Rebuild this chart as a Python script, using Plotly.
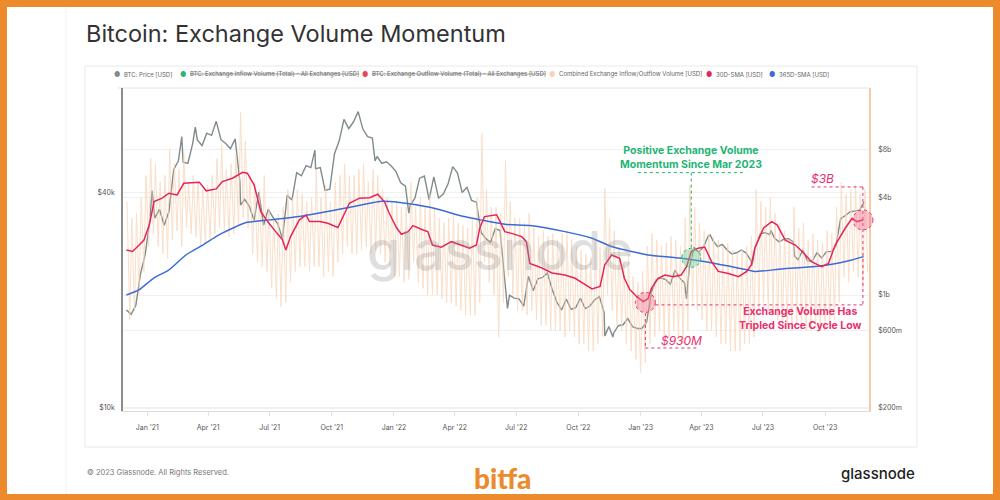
import numpy as np
import pandas as pd
import plotly.graph_objects as go

# ---------------- DATA ----------------
week_start = "2020-12-01"

# BTC price (USD), weekly samples starting 2020-12-01
price_weekly = [
    18800, 18300, 19400, 23800, 27000,
    33900, 34000, 36000, 32500,
    35500, 46500, 49200, 48800,
    48400, 54900, 56300, 54300, 58800,
    58000, 63500, 56400, 55000,
    53200, 56700, 43000, 38400,
    36700, 33500, 40200, 32500, 36000,
    34200, 32800, 29800, 39400,
    38200, 45600, 44700, 47700, 47100,
    46800, 47100, 40700, 41000,
    51500, 56000, 64300, 60600,
    63200, 67600, 60400, 57500, 57000,
    50600, 48400, 48900, 47600,
    45900, 42700, 41800, 36900,
    38700, 44000, 44600, 38300,
    44400, 38700, 39700, 42400, 47400,
    45500, 40100, 41500, 38100,
    37700, 31000, 29800, 29100, 31800,
    31400, 22500, 20700, 20300,
    20200, 19300, 23400, 21300,
    23000, 23200, 23900, 21500, 19800,
    18800, 20200, 18900, 19100,
    20300, 19000, 19300, 20100,
    20500, 18500, 16900, 16200, 17000,
    17100, 17800, 16900, 16700,
    16700, 17400, 21100, 22900, 23100,
    22900, 22200, 24300, 23100,
    22400, 24700, 28200, 27300,
    28200, 30300, 29400, 28300,
    28700, 27700, 27000, 27200, 27700,
    27200, 25900, 28300, 30700,
    31000, 30600, 29900, 29200,
    29700, 29800, 29200, 26000, 27700,
    25800, 25800, 27200, 26300,
    27400, 27400, 28400, 33900, 34600,
    35400, 35600, 35800, 37800,
]
price_extra_dates = ["2021-01-08", "2021-02-21", "2021-03-13", "2021-05-19", "2021-09-06",
                     "2021-12-04", "2022-01-23", "2022-06-18", "2022-11-09", "2022-11-21",
                     "2023-03-10", "2023-04-14", "2023-06-15", "2023-07-13", "2023-08-17",
                     "2023-10-23"]
price_extra_values = [40600, 57500, 61200, 37000, 52700,
                      49200, 35100, 19000, 15900, 15800,
                      20200, 30500, 25100, 31400, 26600,
                      33000]

# Combined exchange in/outflow volume (USD bn): weekly weekday peak and weekend trough
vol_week_high_b = [
    3.8, 3.0, 3.2, 4.0, 5.5,
    7.0, 6.5, 5.0, 5.5,
    8.0, 6.5, 6.0, 7.5,
    5.0, 5.5, 5.0, 4.5, 4.8,
    5.5, 7.0, 8.5, 6.0,
    6.5, 7.5, 13.5, 9.0,
    5.5, 5.0, 4.5, 5.5,
    3.5, 3.0, 3.2, 3.5, 4.5,
    4.0, 4.5, 4.2, 3.8, 4.0,
    6.0, 4.0, 4.8, 3.8,
    5.0, 5.5, 6.5, 5.5,
    5.5, 6.0, 6.5, 5.0,
    6.0, 5.5, 4.5, 4.0, 3.8,
    3.8, 3.5, 3.5, 5.0,
    3.5, 4.0, 3.5, 4.2, 3.5, 3.0,
    2.8, 3.0, 3.2, 2.8, 2.7, 2.6, 3.0,
    4.0, 10.0, 4.5, 3.5, 3.5,
    3.2, 6.8, 3.8, 3.0,
    3.0, 2.8, 3.2, 2.6, 2.3, 2.5, 2.3, 2.4,
    2.2, 2.4, 2.5, 2.2, 2.0, 1.9, 1.8, 1.7, 2.2,
    2.0, 4.6, 3.0, 2.5, 2.0,
    1.6, 1.8, 1.3, 1.2, 1.4,
    2.0, 2.4, 2.2, 2.0, 2.1, 2.3, 2.2, 2.0,
    3.0, 4.8, 3.5, 2.8,
    2.5, 2.4, 2.3, 2.2, 2.0, 2.1, 1.9, 1.8, 1.9, 2.0, 2.3,
    4.5, 3.8, 3.5, 4.0, 3.2, 2.8,
    2.5, 2.2, 3.5, 2.6, 2.8, 2.2, 2.4, 2.2, 2.1,
    2.5, 2.4, 3.5, 5.0, 4.2, 4.5, 4.8, 4.2, 4.5,
]
vol_week_low_b = [
    0.7, 0.8, 1.0, 1.4, 2.0,
    2.4, 2.0, 1.8, 1.7,
    2.2, 2.5, 2.0, 2.6,
    2.4, 2.3, 2.0, 2.1, 2.2,
    2.4, 2.6, 2.5, 2.3,
    2.4, 2.6, 3.0, 2.6,
    1.8, 1.6, 1.5, 1.4,
    1.1, 0.95, 0.85, 0.9, 1.2,
    1.4, 1.5, 1.5, 1.4, 1.5,
    1.5, 1.3, 1.4, 1.3,
    1.6, 1.8, 2.0, 1.8,
    1.8, 1.9, 2.0, 1.8,
    1.9, 1.8, 1.6, 1.5, 1.3,
    1.3, 1.2, 1.25, 1.6,
    1.2, 1.1, 1.0, 1.0, 1.0, 0.95,
    0.9, 0.9, 0.85, 0.8, 0.75, 0.75, 0.75,
    0.9, 1.6, 1.2, 1.0, 0.55,
    0.9, 1.3, 1.0, 0.8,
    0.8, 0.75, 0.8, 0.7, 0.65, 0.65, 0.6, 0.6,
    0.6, 0.55, 0.6, 0.55, 0.5, 0.5, 0.45, 0.45, 0.5,
    0.55, 1.0, 0.8, 0.65, 0.6,
    0.5, 0.45, 0.4, 0.33, 0.38,
    0.5, 0.55, 0.6, 0.55, 0.55, 0.6, 0.55, 0.5,
    0.6, 0.9, 0.8, 0.7,
    0.6, 0.6, 0.55, 0.5, 0.5, 0.45, 0.45, 0.45, 0.5, 0.5, 0.55,
    0.8, 0.9, 0.8, 0.8, 0.7, 0.6,
    0.65, 0.6, 0.65, 0.65, 0.6, 0.6, 0.65, 0.6, 0.6,
    0.65, 0.7, 0.9, 1.3, 1.2, 1.4, 1.3, 1.1, 1.4,
]

# 30D-SMA of combined volume (USD bn)
sma30_dates = [
    "2020-12-01", "2020-12-10", "2020-12-20", "2020-12-27", "2021-01-04", "2021-01-11",
    "2021-01-23", "2021-02-02", "2021-02-14", "2021-02-24", "2021-03-19", "2021-03-29",
    "2021-04-13", "2021-04-22", "2021-05-07", "2021-05-22", "2021-05-29", "2021-06-08",
    "2021-06-18", "2021-06-28", "2021-07-10", "2021-07-20", "2021-07-25", "2021-08-01",
    "2021-08-14", "2021-08-24", "2021-08-29", "2021-09-13", "2021-09-25", "2021-10-10",
    "2021-10-27", "2021-11-11", "2021-11-26", "2021-12-08", "2021-12-18", "2021-12-25",
    "2022-01-05", "2022-01-12", "2022-01-22", "2022-01-29", "2022-02-13", "2022-02-20",
    "2022-02-27", "2022-03-12", "2022-03-27", "2022-04-11", "2022-04-23", "2022-05-03",
    "2022-05-08", "2022-05-15", "2022-06-02", "2022-06-07", "2022-06-14", "2022-06-24",
    "2022-07-09", "2022-07-16", "2022-07-21", "2022-08-08", "2022-08-23", "2022-09-11",
    "2022-09-26", "2022-10-11", "2022-10-21", "2022-11-02", "2022-11-09", "2022-11-19",
    "2022-12-01", "2022-12-08", "2022-12-16", "2022-12-26", "2023-01-05", "2023-01-12",
    "2023-01-17", "2023-01-27", "2023-02-06", "2023-02-18", "2023-03-02", "2023-03-10",
    "2023-03-17", "2023-03-27", "2023-04-06", "2023-04-16", "2023-04-26", "2023-05-11",
    "2023-05-26", "2023-06-07", "2023-06-14", "2023-06-19", "2023-07-02", "2023-07-14",
    "2023-07-22", "2023-08-03", "2023-08-18", "2023-08-28", "2023-09-11", "2023-09-26",
    "2023-10-06", "2023-10-16", "2023-10-31", "2023-11-10", "2023-11-17", "2023-11-27",
]
sma30_b = [
    1.90, 1.86, 2.04, 2.19, 2.72, 3.79,
    3.98, 4.27, 4.17, 4.92, 5.00, 4.42,
    4.54, 5.04, 5.29, 5.76, 5.68, 4.81,
    3.28, 2.85, 2.47, 2.20, 1.90, 2.30,
    2.92, 3.13, 2.85, 2.85, 2.78, 2.62,
    3.70, 3.98, 4.00, 4.21, 3.78, 3.21,
    2.60, 2.38, 2.47, 2.69, 2.53, 2.47,
    2.04, 1.98, 2.14, 2.04, 1.95, 2.04,
    2.60, 3.06, 3.14, 2.85, 2.47, 2.41,
    2.30, 2.14, 1.57, 1.47, 1.37, 1.33,
    1.27, 1.16, 1.09, 1.13, 1.54, 1.77,
    1.69, 1.27, 1.08, 0.98, 0.91, 0.95,
    1.10, 1.27, 1.33, 1.30, 1.33, 1.50,
    1.86, 1.95, 1.98, 1.61, 1.40, 1.36,
    1.30, 1.40, 1.54, 1.95, 2.60, 2.85,
    2.72, 2.19, 2.04, 1.86, 1.61, 1.50,
    1.57, 2.04, 2.60, 2.99, 2.85, 2.92,
]

# 365D-SMA of combined volume (USD bn)
sma365_dates = [
    "2020-12-01", "2020-12-20", "2021-01-10", "2021-02-02", "2021-02-27", "2021-03-24",
    "2021-04-17", "2021-05-12", "2021-05-27", "2021-07-01", "2021-08-19", "2021-10-08",
    "2021-11-26", "2021-12-13", "2022-01-07", "2022-02-25", "2022-04-15", "2022-05-09",
    "2022-06-14", "2022-07-24", "2022-09-11", "2022-10-21", "2022-11-19", "2022-12-19",
    "2023-01-12", "2023-03-02", "2023-04-21", "2023-06-09", "2023-06-19", "2023-07-29",
    "2023-09-16", "2023-10-11", "2023-11-05", "2023-11-27",
]
sma365_b = [
    1.00, 1.08, 1.27, 1.43, 1.77, 2.04,
    2.36, 2.65, 2.81, 2.92, 3.09, 3.37,
    3.70, 3.81, 3.76, 3.48, 3.06, 2.92,
    2.74, 2.69, 2.47, 2.25, 2.00, 1.86,
    1.77, 1.69, 1.57, 1.43, 1.40, 1.45,
    1.50, 1.55, 1.63, 1.73,
]

x_tick_dates = ["2021-01-01", "2021-04-01", "2021-07-01", "2021-10-01", "2022-01-01", "2022-04-01",
                "2022-07-01", "2022-10-01", "2023-01-01", "2023-04-01", "2023-07-01", "2023-10-01"]
x_tick_labels = ["Jan '21", "Apr '21", "Jul '21", "Oct '21", "Jan '22", "Apr '22",
                 "Jul '22", "Oct '22", "Jan '23", "Apr '23", "Jul '23", "Oct '23"]
price_tickvals = [10000, 40000]
price_ticktext = ["$10k", "$40k"]
vol_tickvals = [2e8, 6e8, 1e9, 4e9, 8e9]
vol_ticktext = ["$200m", "$600m", "$1b", "$4b", "$8b"]

legend_names = ["BTC: Price [USD]",
                "BTC: Exchange Inflow Volume (Total) - All Exchanges [USD]",
                "BTC: Exchange Outflow Volume (Total) - All Exchanges [USD]",
                "Combined Exchange Inflow/Outflow Volume [USD]",
                "30D-SMA [USD]", "365D-SMA [USD]"]
legend_hidden = [False, True, True, False, False, False]

# annotation anchors (data)
cycle_low_date, cycle_low_val = "2023-01-08", 0.90e9
recent_date, recent_val = "2023-11-26", 2.92e9
momentum_date, momentum_val = "2023-03-17", 1.70e9

# ---------------- STYLE ----------------
C_PRICE = "#7F8C8A"
C_VOL = "#F9D2B3"
C_SMA30 = "#E5255A"
C_SMA365 = "#3A6BD6"
C_GREEN = "#23B574"
C_PINK = "#E8306F"
C_ORANGE = "#EC8A2C"
legend_colors = [C_PRICE, "#2BB673", "#E8484A", "#F9D3B5", C_SMA30, C_SMA365]
legend_dot_px = [117, 183, 365, 552, 709, 772]

W, H = 1000, 500
L, R, T, B = 123, 869, 88, 411
X_RANGE = ["2020-11-26", "2023-12-05"]
Y_RANGE = [3.9916, 4.896]
Y2_RANGE = [8.282, 10.282]

def px(x):
    return (x - L) / (R - L)
def py(y):
    return (B - y) / (B - T)
def date_to_paper(d):
    a, b = pd.Timestamp(X_RANGE[0]), pd.Timestamp(X_RANGE[1])
    return (pd.Timestamp(d) - a) / (b - a)
def vol_to_paper(v):
    return (np.log10(v) - Y2_RANGE[0]) / (Y2_RANGE[1] - Y2_RANGE[0])

# ---------------- BUILD SERIES ----------------
week_dates = pd.date_range(start=week_start, periods=len(price_weekly), freq="7D")
price = pd.concat([pd.Series(price_weekly, index=week_dates),
                   pd.Series(price_extra_values, index=pd.to_datetime(price_extra_dates))]).sort_index()
price = price[~price.index.duplicated()]

vol_dates, vol_vals = [], []
for d, hi, lo in zip(week_dates, vol_week_high_b, vol_week_low_b):
    vol_dates += [d + pd.Timedelta(days=1), d + pd.Timedelta(days=5)]
    vol_vals += [hi * 1e9, lo * 1e9]

fig = go.Figure()
fig.add_trace(go.Scatter(x=vol_dates, y=vol_vals, yaxis="y2", mode="lines",
                         name=legend_names[3], line=dict(color=C_VOL, width=1), opacity=0.7,
                         hoverinfo="skip"))
fig.add_trace(go.Scatter(x=price.index, y=price.values, yaxis="y", mode="lines",
                         name=legend_names[0], line=dict(color=C_PRICE, width=1.4)))
fig.add_trace(go.Scatter(x=pd.to_datetime(sma365_dates), y=np.array(sma365_b) * 1e9, yaxis="y2",
                         mode="lines", name=legend_names[5], line=dict(color=C_SMA365, width=1.5,
                         shape="spline", smoothing=0.6)))
fig.add_trace(go.Scatter(x=pd.to_datetime(sma30_dates), y=np.array(sma30_b) * 1e9, yaxis="y2",
                         mode="lines", name=legend_names[4], line=dict(color=C_SMA30, width=1.5)))

FONT = "Inter, Roboto, sans-serif"
fig.update_layout(
    width=W, height=H,
    margin=dict(l=L, r=W - R, t=T, b=H - B, pad=0),
    paper_bgcolor=C_ORANGE, plot_bgcolor="rgba(0,0,0,0)",
    showlegend=False,
    font=dict(family=FONT, color="#555", size=7),
    xaxis=dict(type="date", range=X_RANGE,
               tickvals=x_tick_dates, ticktext=x_tick_labels, tickfont=dict(size=7, color="#555"),
               showgrid=False, zeroline=False, showline=True, linecolor="#DADADA", linewidth=1,
               ticks="outside", ticklen=4, tickcolor="#E3E3E3", ticklabelstandoff=6),
    yaxis=dict(type="log", range=Y_RANGE, tickvals=price_tickvals, ticktext=price_ticktext,
               tickfont=dict(size=7, color="#555"), showgrid=True, gridcolor="#F1F1F1",
               zeroline=False, showline=True, linecolor="#8A8F8E", linewidth=1.5,
               ticks="", ticklabelstandoff=5),
    yaxis2=dict(type="log", range=Y2_RANGE, overlaying="y", side="right",
                tickvals=vol_tickvals, ticktext=vol_ticktext, tickfont=dict(size=7, color="#555"),
                showgrid=True, gridcolor="#F1F1F1", zeroline=False, showline=True,
                linecolor="#F8CBA6", linewidth=1.5, ticks="", ticklabelstandoff=6),
)

shapes = []
# white card + frame
shapes.append(dict(type="rect", xref="paper", yref="paper", x0=px(7), x1=px(993), y0=py(494), y1=py(7),
                   fillcolor="white", line=dict(width=0), layer="below"))
shapes.append(dict(type="line", xref="paper", yref="paper", x0=px(66), x1=px(66), y0=py(494), y1=py(7),
                   line=dict(color="#F2F2F2", width=1), layer="below"))
shapes.append(dict(type="rect", xref="paper", yref="paper", x0=px(85), x1=px(917), y0=py(447), y1=py(66),
                   line=dict(color="#EAEAEA", width=1), layer="below"))
shapes.append(dict(type="line", xref="paper", yref="paper", x0=px(118), x1=1, y0=1, y1=1,
                   line=dict(color="#E4E4E4", width=1), layer="below"))

# guide levels (USD) -- shapes take data values on log axes
top_line_val = 4.67e9
lower_line_val = 0.869e9
box_bottom_val = 0.47e9
green_line_val = 5.73e9
dot_pink = dict(color=C_PINK, width=1, dash="dot")
shapes += [
    dict(type="line", xref="x", yref="y2", x0="2023-09-11", x1=recent_date,
         y0=top_line_val, y1=top_line_val, line=dot_pink),
    dict(type="line", xref="x", yref="y2", x0=recent_date, x1=recent_date,
         y0=top_line_val, y1=lower_line_val, line=dot_pink),
    dict(type="line", xref="x", yref="y2", x0="2023-01-23", x1=recent_date,
         y0=lower_line_val, y1=lower_line_val, line=dot_pink),
    dict(type="line", xref="x", yref="y2", x0=cycle_low_date, x1=cycle_low_date,
         y0=0.774e9, y1=box_bottom_val, line=dot_pink),
    dict(type="line", xref="x", yref="y2", x0=cycle_low_date, x1="2023-03-27",
         y0=box_bottom_val, y1=box_bottom_val, line=dot_pink),
]
dot_green = dict(color=C_GREEN, width=1, dash="dot")
shapes += [
    dict(type="line", xref="x", yref="y2", x0="2022-12-28", x1="2023-06-05",
         y0=green_line_val, y1=green_line_val, line=dot_green),
    dict(type="line", xref="x", yref="y2", x0=momentum_date, x1=momentum_date,
         y0=green_line_val, y1=1.93e9, line=dot_green),
]
# highlight circles (paper-anchored at the data point so they are not clipped)
def circle(xd, val, r, fill, col):
    return dict(type="circle", xref="paper", yref="paper", xsizemode="pixel", ysizemode="pixel",
                xanchor=date_to_paper(xd), yanchor=vol_to_paper(val), x0=-r, x1=r, y0=-r, y1=r,
                fillcolor=fill, line=dict(color=col, width=1, dash="dot"))
shapes += [
    circle(cycle_low_date, cycle_low_val, 10, "rgba(240,110,140,0.40)", C_PINK),
    circle(recent_date, recent_val, 10, "rgba(240,110,140,0.40)", C_PINK),
    circle(momentum_date, momentum_val, 9.5, "rgba(110,205,150,0.40)", C_GREEN),
]
fig.update_layout(shapes=shapes)

lg = np.log10  # annotations on log axes take log10 positions
ann = []
ann.append(dict(xref="paper", yref="paper", x=px(84), y=py(33), xanchor="left", yanchor="middle",
                text="Bitcoin: Exchange Volume Momentum", showarrow=False,
                font=dict(family=FONT, size=23.5, color="#333")))
for name, col, xdot, hidden in zip(legend_names, legend_colors, legend_dot_px, legend_hidden):
    ann.append(dict(xref="paper", yref="paper", x=px(xdot), y=py(74.5), xanchor="center", yanchor="middle",
                    text="●", showarrow=False, font=dict(size=7, color=col)))
    ann.append(dict(xref="paper", yref="paper", x=px(xdot + 5), y=py(74.5), xanchor="left", yanchor="middle",
                    text=name, showarrow=False,
                    font=dict(family=FONT, size=6, color="#666",
                              lineposition="through" if hidden else "none")))
ann.append(dict(xref="paper", yref="paper", x=px(500), y=py(250), xanchor="center", yanchor="middle",
                text="glassnode", showarrow=False,
                font=dict(family=FONT, size=54, color="rgba(150,150,150,0.30)", weight=500)))
ann.append(dict(xref="x", yref="y2", x="2023-03-16", y=lg(7.1e9), xanchor="center", yanchor="middle",
                text="Positive Exchange Volume<br>Momentum Since Mar 2023", showarrow=False,
                font=dict(family=FONT, size=10.5, color=C_GREEN, weight="bold")))
ann.append(dict(xref="x", yref="y2", x="2023-08-25", y=lg(0.72e9), xanchor="center", yanchor="middle",
                text="Exchange Volume Has<br>Tripled Since Cycle Low", showarrow=False,
                font=dict(family=FONT, size=10.5, color=C_PINK, weight="bold")))
ann.append(dict(xref="x", yref="y2", x="2023-03-03", y=lg(0.52e9), xanchor="center", yanchor="middle",
                text="$930M", showarrow=False,
                font=dict(family=FONT, size=12, color=C_PINK, style="italic")))
ann.append(dict(xref="x", yref="y2", x="2023-09-27", y=lg(5.24e9), xanchor="center", yanchor="middle",
                text="$3B", showarrow=False,
                font=dict(family=FONT, size=12, color=C_PINK, style="italic")))
ann.append(dict(xref="paper", yref="paper", x=px(85), y=py(472), xanchor="left", yanchor="middle",
                text="© 2023 Glassnode. All Rights Reserved.", showarrow=False,
                font=dict(family=FONT, size=7.5, color="#777")))
ann.append(dict(xref="paper", yref="paper", x=px(502), y=py(478), xanchor="center", yanchor="middle",
                text="bitfa", showarrow=False,
                font=dict(family="Lato, sans-serif", size=28, color=C_ORANGE, weight=900)))
ann.append(dict(xref="paper", yref="paper", x=px(917), y=py(473), xanchor="right", yanchor="middle",
                text="glassnode", showarrow=False,
                font=dict(family=FONT, size=15, color="#222", weight=500)))
fig.update_layout(annotations=ann)

fig.write_html("out.html", config={"displayModeBar": False},
               post_script="document.body.style.margin='0';document.body.style.overflow='hidden';")
